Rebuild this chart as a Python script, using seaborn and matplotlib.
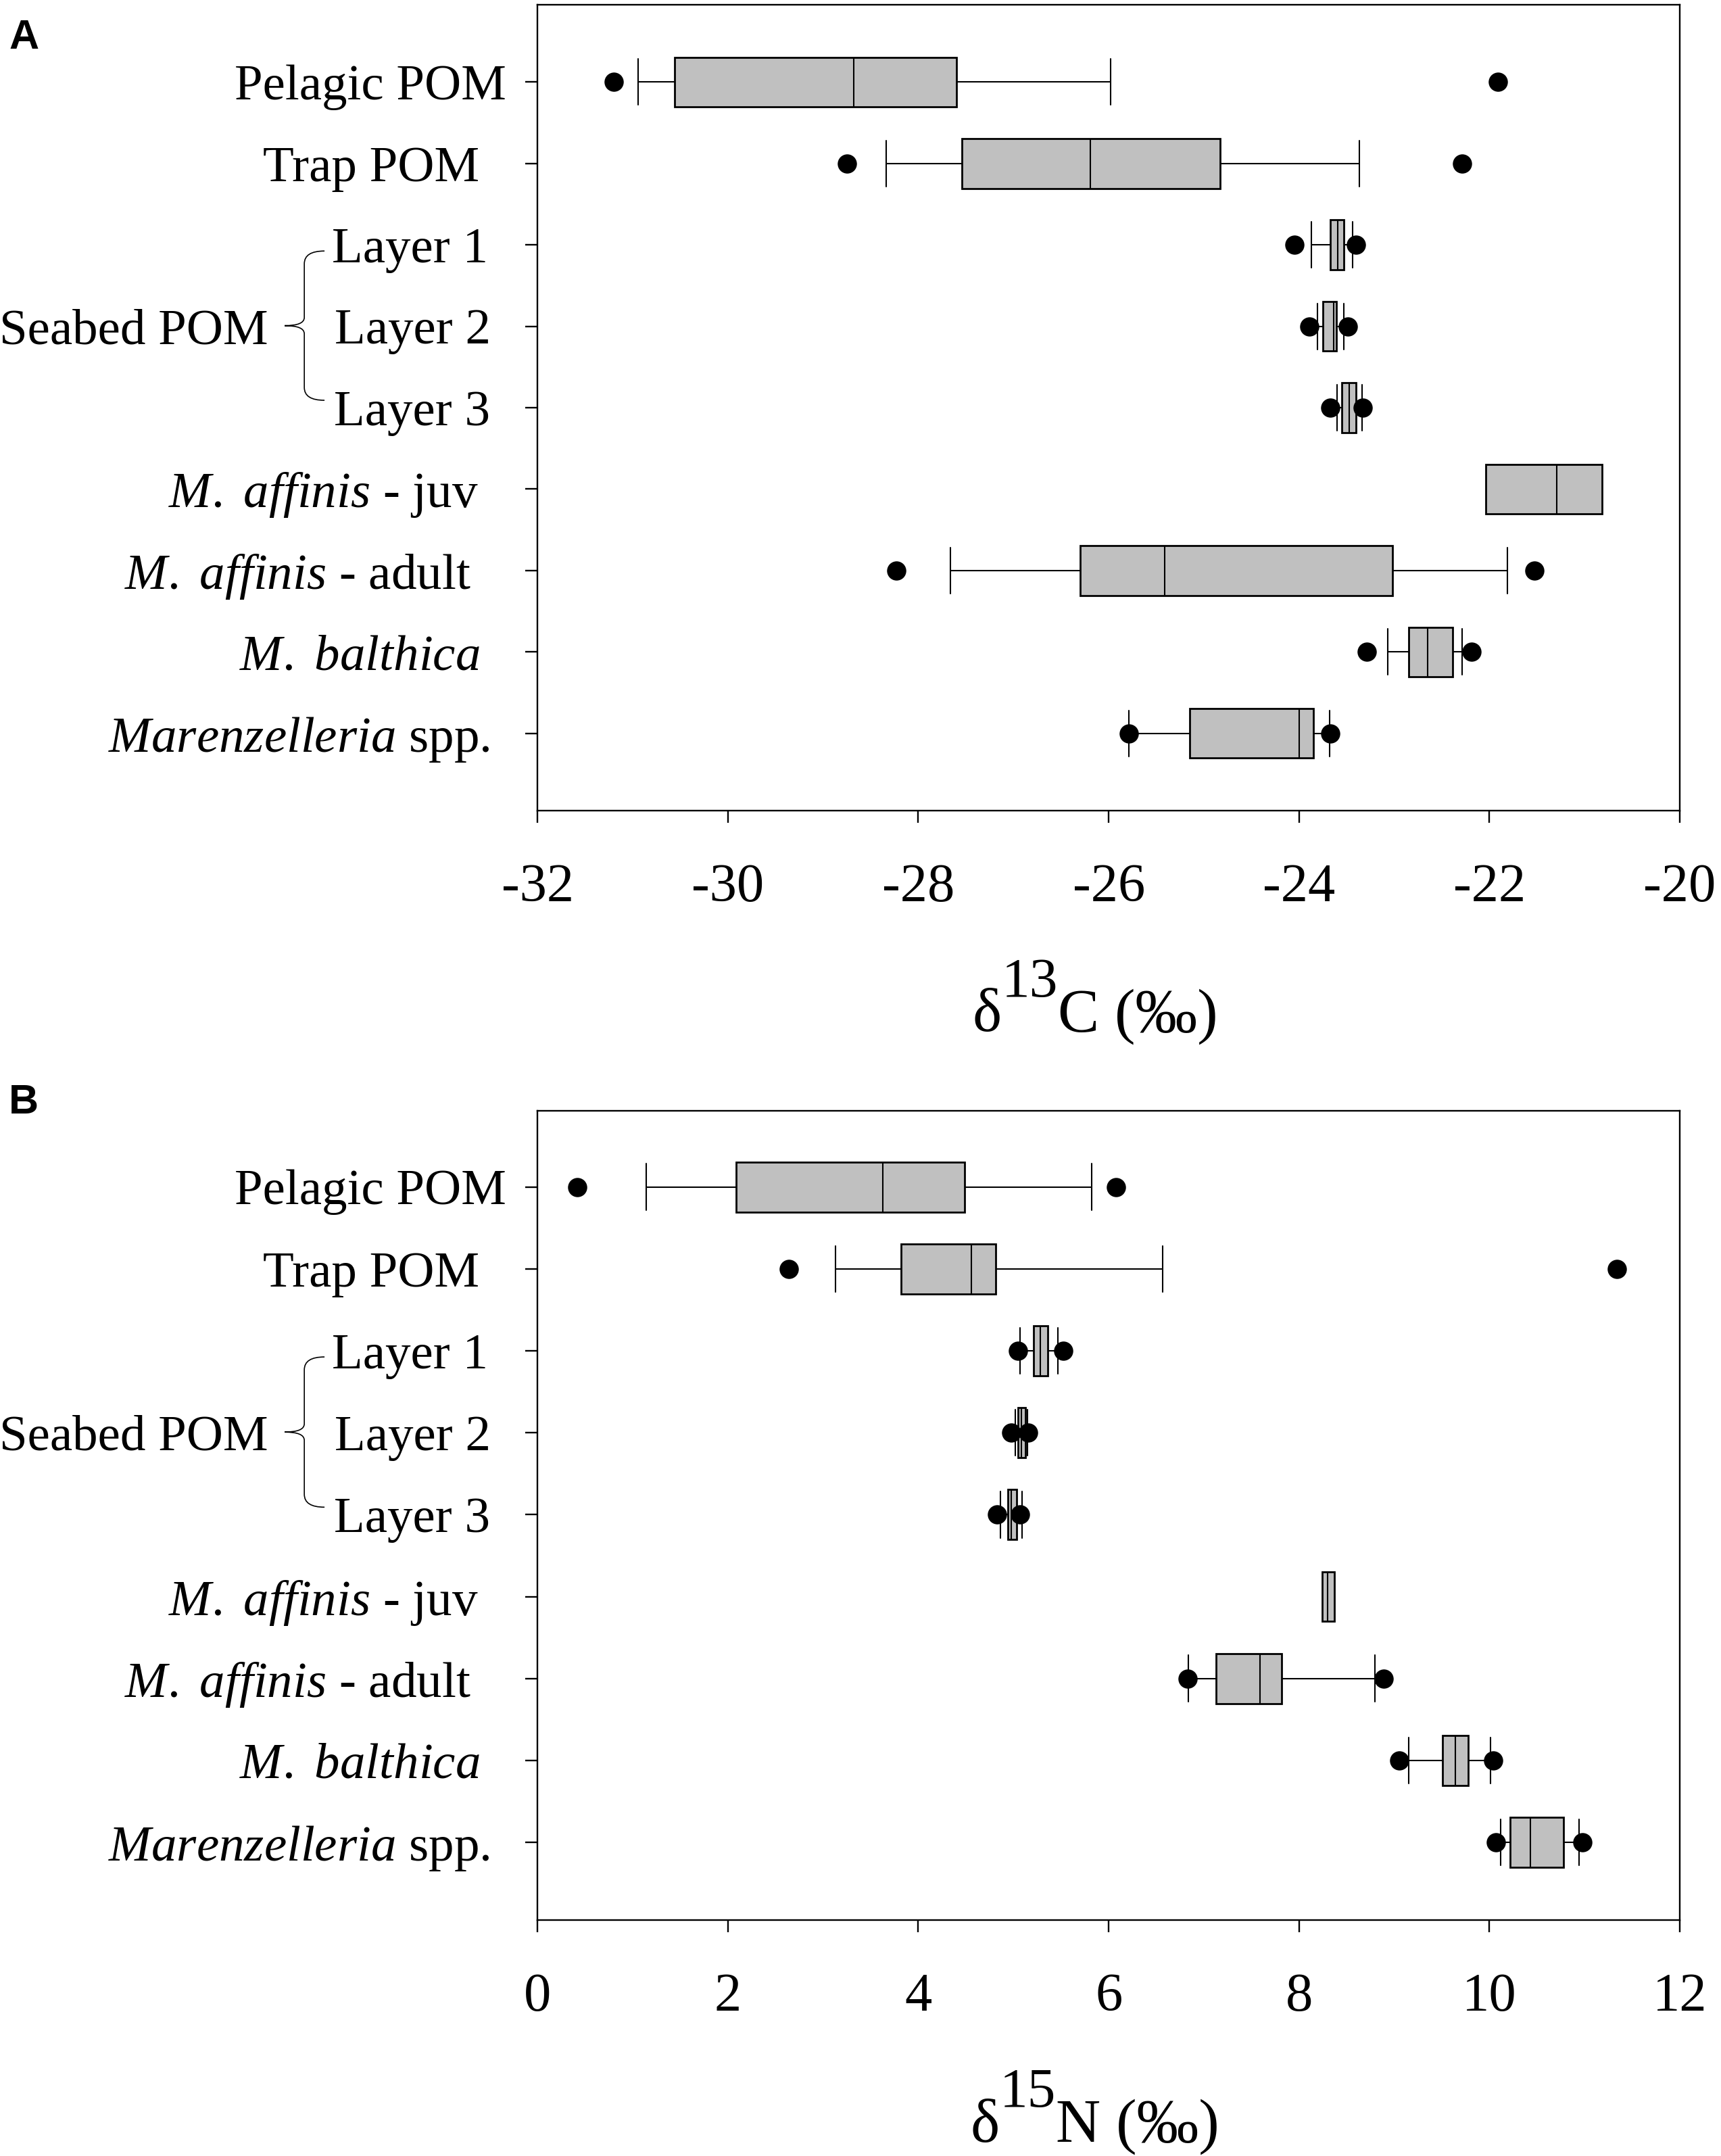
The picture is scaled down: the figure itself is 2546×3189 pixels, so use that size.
import numpy as np
import pandas as pd
import matplotlib
matplotlib.use("Agg")
import matplotlib.pyplot as plt
import matplotlib.transforms as mtransforms
from matplotlib.path import Path
from matplotlib.patches import PathPatch
import seaborn as sns

# ---------------- data ----------------
groups = ["Pelagic POM", "Trap POM", "Layer 1", "Layer 2", "Layer 3",
          "M. affinis - juv", "M. affinis - adult", "M. balthica", "Marenzelleria spp."]
group_labels = ["Pelagic POM", "Trap POM", "Layer 1", "Layer 2", "Layer 3",
                r"$\mathit{M.\ affinis}$ - juv", r"$\mathit{M.\ affinis}$ - adult",
                r"$\mathit{M.\ balthica}$", r"$\mathit{Marenzelleria}$ spp."]
seabed_label = "Seabed POM"

# delta 13C (per mil): whisker low, Q1, median, Q3, whisker high, outliers
c_wlo = [-30.94, -28.34, -23.87, -23.81, -23.60, -22.04, -27.66, -23.07, -25.79]
c_q1  = [-30.56, -27.54, -23.67, -23.75, -23.55, -22.04, -26.30, -22.85, -25.15]
c_med = [-28.68, -26.19, -23.595, -23.64, -23.47, -21.29, -25.41, -22.65, -24.00]
c_q3  = [-27.60, -24.83, -23.53, -23.61, -23.40, -20.82, -23.02, -22.39, -23.85]
c_whi = [-25.98, -23.37, -23.44, -23.53, -23.34, -20.82, -21.81, -22.29, -23.68]
c_olo = [-31.20, -28.75, -24.05, -23.89, -23.67, np.nan, -28.23, -23.29, -25.79]
c_ohi = [-21.91, -22.29, -23.40, -23.49, -23.33, np.nan, -21.53, -22.19, -23.67]

# delta 15N (per mil)
n_wlo = [1.14, 3.13, 5.07, 5.02, 4.86, 8.24, 6.84, 9.15, 10.12]
n_q1  = [2.09, 3.82, 5.21, 5.05, 4.94, 8.24, 7.13, 9.51, 10.22]
n_med = [3.63, 4.56, 5.28, 5.085, 4.98, 8.30, 7.59, 9.64, 10.43]
n_q3  = [4.49, 4.81, 5.36, 5.125, 5.03, 8.37, 7.82, 9.78, 10.78]
n_whi = [5.82, 6.57, 5.47, 5.15, 5.09, 8.37, 8.80, 10.01, 10.94]
n_olo = [0.42, 2.64, 5.05, 4.975, 4.83, np.nan, 6.83, 9.05, 10.07]
n_ohi = [6.08, 11.34, 5.52, 5.157, 5.07, np.nan, 8.89, 10.04, 10.98]

c_ticks = [-32, -30, -28, -26, -24, -22, -20]
n_ticks = [0, 2, 4, 6, 8, 10, 12]

# ---------------- style ----------------
sns.set_theme(style="ticks")
plt.rcParams["font.family"] = ["Liberation Serif", "DejaVu Serif"]
plt.rcParams.update({
    "mathtext.fontset": "custom",
    "mathtext.rm": "Liberation Serif",
    "mathtext.it": "Liberation Serif:italic",
    "axes.unicode_minus": False,
    "axes.edgecolor": "black",
    "axes.linewidth": 0.85,
    "xtick.color": "black",
    "ytick.color": "black",
    "text.color": "black",
    "xtick.major.size": 6.5,
    "ytick.major.size": 6.5,
    "xtick.major.width": 0.85,
    "ytick.major.width": 0.85,
    "xtick.major.pad": 21.5,
    "xtick.labelsize": 29,
})

DPI = 200
fig = plt.figure(figsize=(2546 / DPI, 3189 / DPI), dpi=DPI)
ax_c = fig.add_axes([0.3123, 0.6240, 0.6638, 0.3738])
ax_n = fig.add_axes([0.3123, 0.1094, 0.6638, 0.3754])

label_gap_pt = [16.8, 31.0, 26.2, 24.8, 25.2, 31.5, 35.6, 30.6, 25.4]


def box_frame(wlo, q1, med, q3, whi):
    rows = []
    for g, a, b, c, d, e in zip(groups, wlo, q1, med, q3, whi):
        for v in (a, b, c, d, e):
            rows.append((g, v))
    return pd.DataFrame(rows, columns=["group", "value"])


def out_frame(olo, ohi):
    rows = []
    for g, a, b in zip(groups, olo, ohi):
        for v in (a, b):
            if not np.isnan(v):
                rows.append((g, v))
    return pd.DataFrame(rows, columns=["group", "value"])


def draw_brace(ax, y0, y1):
    ym = 0.5 * (y0 + y1)
    xe, xv, xt = -0.1864, -0.2041, -0.2213
    verts = [(xe, y0), (xv, y0), (xv, y0 + 0.157),
             (xv, ym - 0.10), (xv, ym), (xt, ym),
             (xv, ym), (xv, ym + 0.10),
             (xv, y1 - 0.157), (xv, y1), (xe, y1)]
    codes = [Path.MOVETO, Path.CURVE3, Path.CURVE3,
             Path.LINETO, Path.CURVE3, Path.CURVE3,
             Path.CURVE3, Path.CURVE3,
             Path.LINETO, Path.CURVE3, Path.CURVE3]
    trans = mtransforms.blended_transform_factory(ax.transAxes, ax.transData)
    ax.add_patch(PathPatch(Path(verts, codes), fill=False, lw=0.6,
                           edgecolor="black", transform=trans, clip_on=False))


def rich_xlabel(ax, runs, xc, yb):
    renderer = fig.canvas.get_renderer()
    arts, widths = [], []
    for s, fs, rise in runs:
        t = ax.annotate(s, xy=(xc, yb), xycoords="axes fraction",
                        xytext=(0, rise), textcoords="offset points",
                        ha="left", va="baseline", fontsize=fs,
                        annotation_clip=False)
        w = t.get_window_extent(renderer).width * 72.0 / DPI
        arts.append((t, rise))
        widths.append(w)
    x = -sum(widths) / 2.0
    for (t, rise), w in zip(arts, widths):
        t.xyann = (x, rise)
        x += w


def panel(ax, wlo, q1, med, q3, whi, olo, ohi, ticks, ylim, xlabel_runs, letter, letter_y):
    df = box_frame(wlo, q1, med, q3, whi)
    sns.boxplot(data=df, x="value", y="group", order=groups, orient="h",
                whis=(0, 100), width=0.61, color="#C0C0C0", saturation=1,
                linecolor="black", linewidth=1.0, showfliers=False, ax=ax,
                whiskerprops={"linewidth": 0.75},
                capprops={"linewidth": 0.75},
                medianprops={"linewidth": 0.75})
    # caps spanning nearly the full box height; no caps where no whiskers
    cont = None
    for c in ax.containers:
        if hasattr(c, "caps"):
            cont = c
    if cont is not None:
        caps = list(cont.caps)
        for i, cap in enumerate(caps):
            gi = i // 2
            yd = np.asarray(cap.get_ydata(), dtype=float)
            cy = yd.mean()
            cap.set_ydata([cy - 0.283, cy + 0.283])
            if gi < len(groups) and wlo[gi] == q1[gi] and whi[gi] == q3[gi]:
                cap.set_visible(False)
    od = out_frame(olo, ohi)
    sns.scatterplot(data=od, x="value", y="group", color="black", s=105,
                    linewidth=0, zorder=6, ax=ax, legend=False)
    ax.set_xlim(ticks[0], ticks[-1])
    ax.set_xticks(ticks)
    ax.set_xticklabels([str(t) for t in ticks])
    ax.set_ylim(*ylim)
    ax.set_xlabel("")
    ax.set_ylabel("")
    ax.tick_params(axis="y", labelleft=False, left=True, right=False)
    ax.tick_params(axis="x", top=False, bottom=True)
    for sp in ax.spines.values():
        sp.set_visible(True)
        sp.set_color("black")
        sp.set_linewidth(0.85)
    trans = mtransforms.blended_transform_factory(ax.transAxes, ax.transData)
    for i, (lab, gap) in enumerate(zip(group_labels, label_gap_pt)):
        ax.annotate(lab, xy=(0, i), xycoords=trans, xytext=(-gap, 0),
                    textcoords="offset points", ha="right", va="center_baseline",
                    fontsize=27, annotation_clip=False)
    ax.annotate(seabed_label, xy=(0, 3.0), xycoords=trans, xytext=(-143.6, 0),
                textcoords="offset points", ha="right", va="center_baseline",
                fontsize=27, annotation_clip=False)
    draw_brace(ax, 2.075, 3.909)
    rich_xlabel(ax, xlabel_runs, 0.488, -0.2735)
    fig.text(13 / 2546, letter_y, letter, family=["Liberation Sans", "DejaVu Sans"],
             fontweight="bold", fontsize=22, ha="left", va="baseline")


panel(ax_c, c_wlo, c_q1, c_med, c_q3, c_whi, c_olo, c_ohi, c_ticks, (8.95, -0.95),
      [("δ", 33, 0), ("13", 30, 18.5), ("C (‰)", 33, 0)], "A", 1 - 72 / 3189)
panel(ax_n, n_wlo, n_q1, n_med, n_q3, n_whi, n_olo, n_ohi, n_ticks, (8.95, -0.93),
      [("δ", 33, 0), ("15", 30, 18.5), ("N (‰)", 33, 0)], "B", 1 - 1647 / 3189)

fig.savefig("out.png", dpi=DPI)
